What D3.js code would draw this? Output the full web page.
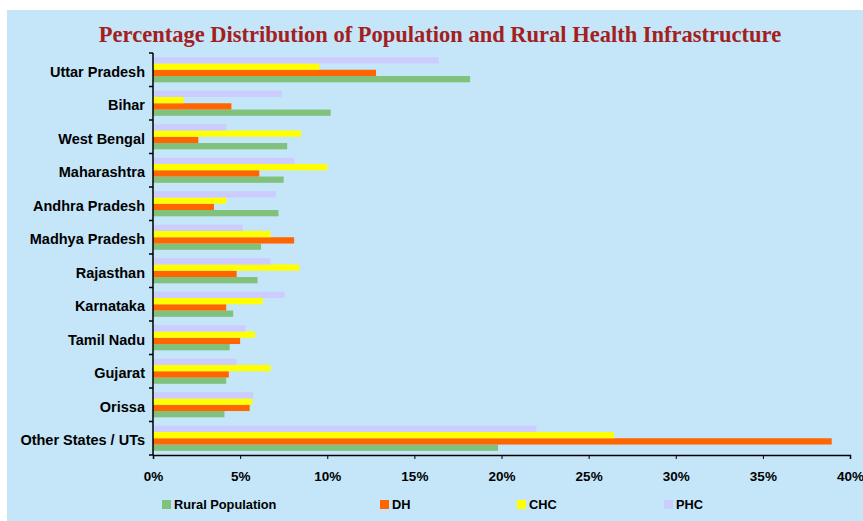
<!DOCTYPE html>
<html>
<head>
<meta charset="utf-8">
<script src="https://cdn.jsdelivr.net/npm/d3@7"></script>
<style>
  body { margin: 0; background: #fff; }
  svg { display: block; }
</style>
</head>
<body>
<div id="chart"></div>
<script>
// states, top to bottom
var states = ["Uttar Pradesh", "Bihar", "West Bengal", "Maharashtra", "Andhra Pradesh",
  "Madhya Pradesh", "Rajasthan", "Karnataka", "Tamil Nadu", "Gujarat", "Orissa", "Other States / UTs"];

// percentages
var ruralPop = [18.2, 10.2, 7.7, 7.5, 7.2, 6.2, 6.0, 4.6, 4.4, 4.2, 4.1, 19.8];
var dh       = [12.8, 4.5, 2.6, 6.1, 3.5, 8.1, 4.8, 4.2, 5.0, 4.35, 5.55, 38.95];
var chc      = [9.55, 1.75, 8.5, 10.0, 4.2, 6.75, 8.4, 6.3, 5.85, 6.75, 5.7, 26.45];
var phc      = [16.4, 7.4, 4.2, 8.1, 7.05, 5.15, 6.75, 7.55, 5.3, 4.8, 5.75, 22.0];

var seriesNames = ["Rural Population", "DH", "CHC", "PHC"];
var seriesColors = ["#80c27b", "#ff6600", "#ffff00", "#ccccff"];
var seriesValues = [ruralPop, dh, chc, phc];
var xTicks = [0, 5, 10, 15, 20, 25, 30, 35, 40];

var W = 863, H = 521;
var margin = {top: 53, right: 13, bottom: 66, left: 153};
var width = W - margin.left - margin.right;
var height = H - margin.top - margin.bottom;

var svg = d3.select("#chart").append("svg").attr("width", W).attr("height", H);

// light blue panel
svg.append("rect").attr("x", 7).attr("y", 10).attr("width", W - 7).attr("height", H - 10)
  .attr("fill", "#c4e6f8");

svg.append("text")
  .attr("x", 440).attr("y", 42)
  .attr("text-anchor", "middle")
  .attr("font-family", "Liberation Serif, serif")
  .attr("font-weight", "bold")
  .attr("font-size", 22.5)
  .attr("fill", "#a3201e")
  .text("Percentage Distribution of Population and Rural Health Infrastructure");

var g = svg.append("g").attr("transform", "translate(" + margin.left + "," + margin.top + ")");

var xScale = d3.scaleLinear().domain([0, 40]).range([0, width]);
var yScale = d3.scaleBand().domain(states).range([0, height]).paddingInner(0.25).paddingOuter(0.125);
// draw order inside a band: PHC on top, Rural Population at the bottom
var inner = d3.scaleBand().domain(["PHC", "CHC", "DH", "Rural Population"]).range([0, yScale.bandwidth()]);

seriesNames.forEach(function(name, si) {
  var rows = states.map(function(s, i) { return {state: s, value: seriesValues[si][i]}; });
  g.selectAll(".bar-" + si).data(rows).enter().append("rect")
    .attr("class", "bar-" + si)
    .attr("x", xScale(0))
    .attr("y", function(d) { return yScale(d.state) + inner(name); })
    .attr("width", function(d) { return xScale(d.value) - xScale(0); })
    .attr("height", inner.bandwidth())
    .attr("fill", seriesColors[si]);
});

// x axis
var xAxis = g.append("g").attr("transform", "translate(0," + height + ")")
  .call(d3.axisBottom(xScale).tickValues(xTicks).tickFormat(function(d) { return d + "%"; })
    .tickSizeInner(4).tickSizeOuter(4).tickPadding(12));
xAxis.selectAll("text").attr("font-family", "Liberation Sans, Arial, sans-serif")
  .attr("font-weight", "bold").attr("font-size", 13.5).attr("fill", "#000");

// y axis: ticks on band boundaries
var yAxis = g.append("g");
yAxis.append("line").attr("x1", 0).attr("x2", 0).attr("y1", 0).attr("y2", height)
  .attr("stroke", "#000").attr("stroke-width", 1.5);
xAxis.select(".domain").attr("stroke-width", 1.5);
var step = yScale.step();
yAxis.selectAll(".ytick").data(d3.range(states.length + 1)).enter().append("line")
  .attr("x1", -4).attr("x2", 0)
  .attr("y1", function(i) { return i * step; })
  .attr("y2", function(i) { return i * step; })
  .attr("stroke", "#000").attr("stroke-width", 1.5);
yAxis.selectAll(".ylab").data(states).enter().append("text")
  .attr("x", -8)
  .attr("y", function(d) { return yScale(d) + yScale.bandwidth() / 2 + 2; })
  .attr("dy", "0.35em")
  .attr("text-anchor", "end")
  .attr("font-family", "Liberation Sans, Arial, sans-serif")
  .attr("font-weight", "bold")
  .attr("font-size", 14.5)
  .attr("fill", "#000")
  .text(function(d) { return d; });

// legend
var legendX = [162, 380, 517, 664];
var legend = svg.selectAll(".leg").data(seriesNames).enter().append("g")
  .attr("transform", function(d, i) { return "translate(" + legendX[i] + ",500)"; });
legend.append("rect").attr("width", 9).attr("height", 9)
  .attr("fill", function(d, i) { return seriesColors[i]; });
legend.append("text").attr("x", 12).attr("y", 5).attr("dy", "0.35em")
  .attr("font-family", "Liberation Sans, Arial, sans-serif")
  .attr("font-weight", "bold").attr("font-size", 12.8).attr("fill", "#000")
  .text(function(d) { return d; });
</script>
</body>
</html>
